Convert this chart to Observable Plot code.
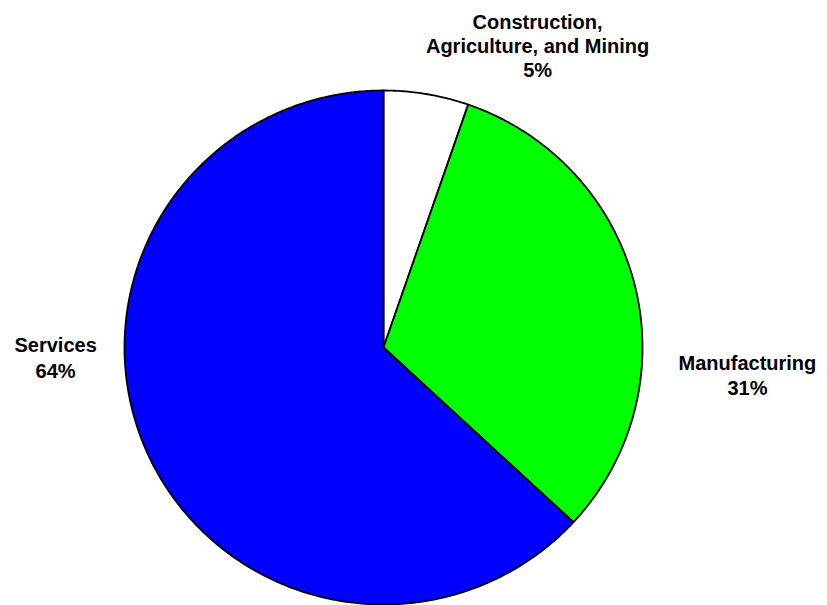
<!DOCTYPE html>
<html>
<head>
<meta charset="utf-8">
<script src="https://cdn.jsdelivr.net/npm/d3@7"></script>
<script src="https://cdn.jsdelivr.net/npm/@observablehq/plot@0.6"></script>
<style>
  html, body { margin: 0; padding: 0; background: #fff; }
  #chart svg { display: block; }
</style>
</head>
<body>
<div id="chart"></div>
<script>
// ---- data ----
const categories = ["Construction, Agriculture, and Mining", "Manufacturing", "Services"];
const labelLines = [["Construction,", "Agriculture, and Mining"], ["Manufacturing"], ["Services"]];
const values = [5.3, 31.6, 63.1];
const percentLabels = ["5%", "31%", "64%"];
const colors = ["#ffffff", "#00ff00", "#0000ff"];

// ---- layout (label anchors in data units of the unit-circle frame) ----
const labelAnchors = [[0.595, 1.175], [1.405, -0.105], [-1.266, -0.036]];
const labelLineHeights = [1.2, 1.27, 1.27];

// ---- slice geometry from values ----
const total = d3.sum(values);
let acc = 0;
const slicePts = [];
values.forEach((v, i) => {
  const a0 = acc / total * 2 * Math.PI;
  acc += v;
  const a1 = acc / total * 2 * Math.PI;
  const n = Math.max(2, Math.ceil((a1 - a0) / (Math.PI / 360)));
  slicePts.push({cat: categories[i], i, x: 0, y: 0});
  for (let k = 0; k <= n; k++) {
    const a = a0 + (a1 - a0) * k / n;
    slicePts.push({cat: categories[i], i, x: Math.sin(a), y: Math.cos(a)});
  }
  slicePts.push({cat: categories[i], i, x: 0, y: 0});
});

const labels = categories.map((c, i) => ({
  text: [...labelLines[i], percentLabels[i]].join("\n"),
  x: labelAnchors[i][0],
  y: labelAnchors[i][1],
  i
}));

const chart = Plot.plot({
  width: 827,
  height: 605,
  marginLeft: 124,
  marginRight: 185,
  marginTop: 90,
  marginBottom: 1,
  x: {domain: [-1, 1], axis: null},
  y: {domain: [-1, 1], axis: null},
  style: {background: "#fff"},
  marks: [
    ...categories.map((c, i) => Plot.line(slicePts.filter(d => d.i === i), {
      x: "x", y: "y", fill: colors[i], stroke: "#000", strokeWidth: 1.8,
      strokeLinejoin: "round", curve: "linear"
    })),
    ...labels.map((l, i) => Plot.text([l], {
      x: "x", y: "y", text: "text",
      fontSize: 20, fontWeight: "bold", fill: "#000",
      fontFamily: "'Liberation Sans', Arial, sans-serif",
      lineHeight: labelLineHeights[i], textAnchor: "middle", lineAnchor: "middle"
    }))
  ]
});
document.getElementById("chart").appendChild(chart);
</script>
</body>
</html>
